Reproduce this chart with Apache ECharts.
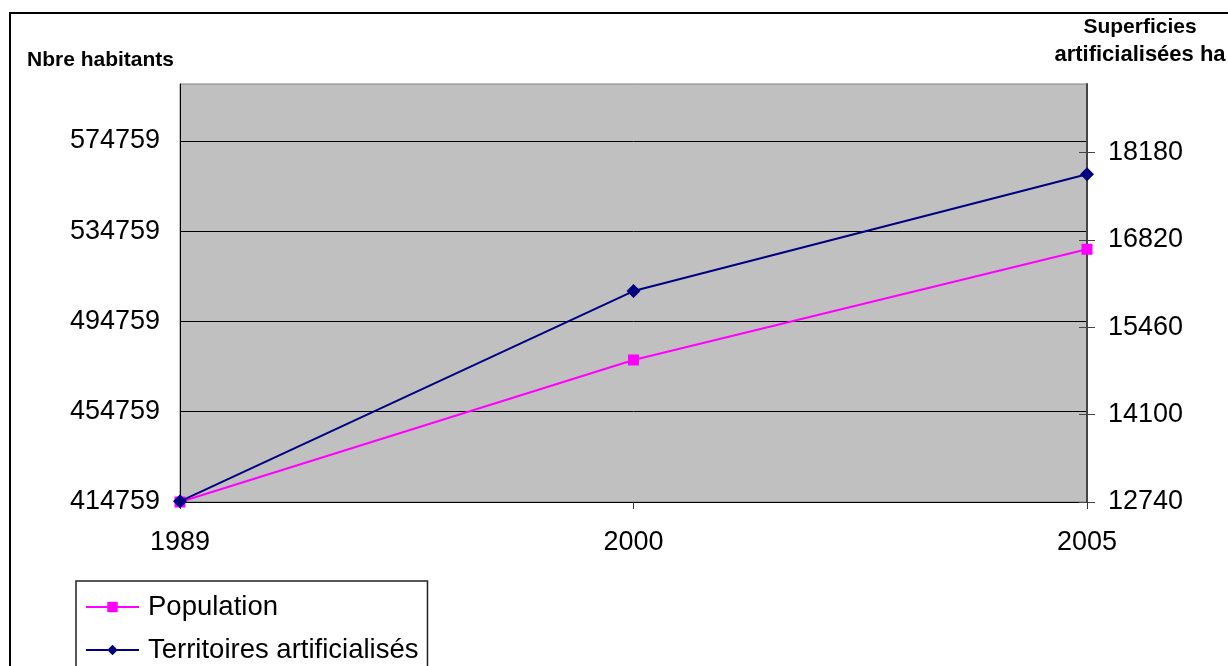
<!DOCTYPE html>
<html>
<head>
<meta charset="utf-8">
<script src="https://cdn.jsdelivr.net/npm/echarts@6/dist/echarts.min.js"></script>
<style>
  html, body { margin: 0; padding: 0; background: #fff; }
  #app { width: 1228px; height: 666px; }
</style>
</head>
<body>
<div id="app"></div>
<script>
// data
var years = ['1989', '2000', '2005'];
var population = [414759, 477700, 526750];
var territoires = [12750, 16025, 17845];
var leftTicks = [414759, 454759, 494759, 534759, 574759];
var rightTicks = [12740, 14100, 15460, 16820, 18180];

var FONT = 'Liberation Sans, Arial, sans-serif';

function plain(v) { return String(v); }

var chart = echarts.init(document.getElementById('app'));

chart.setOption({
    animation: false,
    backgroundColor: '#fff',
    grid: {
        left: 180, top: 84, right: 141, bottom: 164,
        show: true,
        backgroundColor: '#C0C0C0',
        borderColor: '#808080',
        borderWidth: 1,
        outerBoundsMode: 'none'
    },
    legend: {
        orient: 'vertical',
        left: 76,
        top: 581,
        width: 340,
        height: 140,
        padding: [12, 9, 40, 9],
        itemWidth: 53,
        itemHeight: 13,
        itemGap: 15,
        borderColor: '#222',
        borderWidth: 1.5,
        backgroundColor: '#fff',
        textStyle: { fontFamily: FONT, fontSize: 27.5, color: '#000', padding: [0, 0, 0, 4] },
        data: ['Population', 'Territoires artificialisés']
    },
    xAxis: {
        type: 'category',
        data: years,
        boundaryGap: false,
        axisLine: { lineStyle: { color: '#000', width: 1 } },
        axisTick: { show: true, length: 7, lineStyle: { color: '#333' } },
        axisLabel: { fontFamily: FONT, fontSize: 27, color: '#000', margin: 27 },
        splitLine: { show: false }
    },
    yAxis: [
        {
            type: 'value',
            position: 'left',
            min: 414759,
            max: 600000,
            axisLine: { show: true, lineStyle: { color: '#000', width: 1 } },
            axisTick: { show: false, customValues: leftTicks },
            axisLabel: {
                customValues: leftTicks,
                formatter: plain,
                fontFamily: FONT, fontSize: 27, color: '#000', margin: 20
            },
            splitLine: { show: true, lineStyle: { color: '#000', width: 1 } }
        },
        {
            type: 'value',
            position: 'right',
            min: 12740,
            max: 19250,
            axisLine: { show: true, lineStyle: { color: '#444', width: 2 } },
            axisTick: { show: true, length: 8, inside: false, customValues: rightTicks, lineStyle: { color: '#444' } },
            axisLabel: {
                customValues: rightTicks,
                formatter: plain,
                fontFamily: FONT, fontSize: 27, color: '#000', margin: 21
            },
            splitLine: { show: false }
        },
        {
            // inner half of the crossing ticks on the right axis
            type: 'value',
            position: 'right',
            min: 12740,
            max: 19250,
            axisLine: { show: false },
            axisTick: { show: true, length: 8, inside: true, customValues: rightTicks, lineStyle: { color: '#444' } },
            axisLabel: { show: false },
            splitLine: { show: false }
        }
    ],
    graphic: [
        {
            type: 'rect',
            shape: { x: 10, y: 13, width: 1300, height: 700 },
            style: { fill: 'none', stroke: '#000', lineWidth: 2 },
            z: -10
        },
        {
            type: 'text', left: 27, top: 50,
            style: { text: 'Nbre habitants', font: 'bold 21px ' + FONT, fill: '#000' }
        },
        {
            type: 'text', x: 1140, y: 27,
            style: { text: 'Superficies', font: 'bold 21px ' + FONT, fill: '#000', align: 'center', verticalAlign: 'middle' }
        },
        {
            type: 'text', x: 1140, y: 55,
            style: { text: 'artificialisées ha', font: 'bold 22px ' + FONT, fill: '#000', align: 'center', verticalAlign: 'middle' }
        }
    ],
    series: [
        {
            name: 'Population',
            type: 'line',
            yAxisIndex: 0,
            data: population,
            symbol: 'rect',
            symbolSize: 11,
            lineStyle: { color: '#FF00FF', width: 2 },
            itemStyle: { color: '#FF00FF' },
            z: 3
        },
        {
            name: 'Territoires artificialisés',
            type: 'line',
            yAxisIndex: 1,
            data: territoires,
            symbol: 'diamond',
            symbolSize: 14,
            lineStyle: { color: '#000080', width: 2 },
            itemStyle: { color: '#000080' },
            z: 4
        }
    ]
});
</script>
</body>
</html>
